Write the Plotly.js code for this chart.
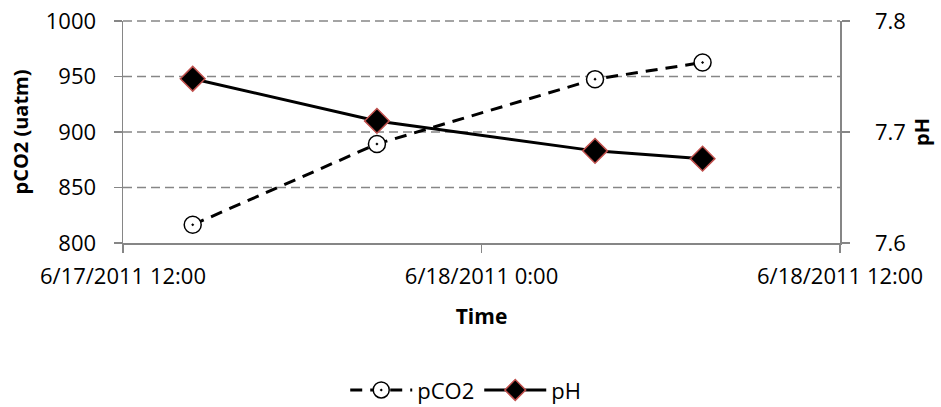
<!DOCTYPE html>
<html>
<head>
<meta charset="utf-8">
<script src="https://cdn.plot.ly/plotly-3.0.1.min.js"></script>
<style>html,body{margin:0;padding:0;background:#fff;}#chart{width:941px;height:407px;}</style>
</head>
<body>
<div id="chart"></div>
<script>
var times = ['2011-06-17 14:20', '2011-06-17 20:30', '2011-06-18 03:48', '2011-06-18 07:24'];
var pco2 = [816.4, 889.2, 947.6, 962.6];
var ph = [7.748, 7.710, 7.683, 7.676];
var xTickVals = ['2011-06-17 12:00', '2011-06-18 00:00', '2011-06-18 12:00'];
var xTickText = ['6/17/2011 12:00', '6/18/2011 0:00', '6/18/2011 12:00'];
var leftTicks = [800, 850, 900, 950, 1000];
var rightTicks = [7.6, 7.7, 7.8];
var rightTickText = ['7.6', '7.7', '7.8'];

var FONT = 'Open Sans, Noto Sans, sans-serif';
var GRAY = '#868686';
var GRIDDASH = '9px,5px';

var traces = [
  {
    x: times, y: pco2, name: 'pCO2', type: 'scatter', mode: 'lines+markers',
    yaxis: 'y',
    line: {color: '#000000', width: 3, dash: '12px,8px'},
    marker: {symbol: 'circle-dot', size: 17, color: '#ffffff', line: {color: '#000000', width: 1.5}}
  },
  {
    x: times, y: ph, name: 'pH', type: 'scatter', mode: 'lines+markers',
    yaxis: 'y2',
    line: {color: '#000000', width: 3},
    marker: {symbol: 'diamond', size: 19, color: '#000000', line: {color: '#c0504d', width: 1.5}}
  }
];

var yMin = leftTicks[0], yMax = leftTicks[leftTicks.length - 1];
// dashed horizontal gridlines at every left-axis tick above the x-axis line
var gridShapes = leftTicks.filter(function (v) { return v > yMin; }).map(function (v) {
  var isTop = (v === yMax);
  return {type: 'line', xref: 'paper', yref: isTop ? 'paper' : 'y', x0: 0, x1: 1,
          y0: isTop ? 1 : v, y1: isTop ? 1 : v,
          line: {color: GRAY, width: 1.3, dash: GRIDDASH}, layer: 'below'};
});

var layout = {
  width: 941, height: 407,
  margin: {l: 123, r: 101, t: 21, b: 164, pad: 0, autoexpand: false},
  paper_bgcolor: '#ffffff', plot_bgcolor: '#ffffff',
  font: {family: FONT, size: 22, color: '#000000'},
  showlegend: true,
  legend: {orientation: 'h', x: 0.478, xanchor: 'center', y: -0.663, yanchor: 'middle',
           font: {family: FONT, size: 22, color: '#000000'}, itemwidth: 62},
  xaxis: {
    type: 'date', range: ['2011-06-17 12:00', '2011-06-18 12:00'],
    tickmode: 'array', tickvals: xTickVals, ticktext: xTickText,
    showgrid: false, zeroline: false, automargin: false,
    showline: true, linecolor: GRAY, linewidth: 1.5,
    ticks: 'outside', ticklen: 8, tickcolor: GRAY, tickwidth: 1.5,
    ticklabelstandoff: 5,
    tickfont: {family: FONT, size: 22, color: '#000000'},
    title: {text: '<b>Time</b>', font: {family: FONT, size: 21, color: '#000000'}, standoff: 20}
  },
  yaxis: {
    range: [yMin, yMax], tickmode: 'array', tickvals: leftTicks,
    showgrid: false,
    zeroline: false, showline: true, linecolor: GRAY, linewidth: 1.5, automargin: false,
    ticks: 'outside', ticklen: 8, tickcolor: GRAY, tickwidth: 1.5,
    ticklabelstandoff: 13,
    tickfont: {family: FONT, size: 22, color: '#000000'},
    title: {text: '<b>pCO2 (uatm)</b>', font: {family: FONT, size: 20, color: '#000000'}, standoff: 12}
  },
  yaxis2: {
    overlaying: 'y', side: 'right',
    range: [7.6, 7.8], tickmode: 'array', tickvals: rightTicks, ticktext: rightTickText,
    showgrid: false, zeroline: false, showline: true, linecolor: GRAY, linewidth: 1.5, automargin: false,
    ticks: 'outside', ticklen: 8, tickcolor: GRAY, tickwidth: 1.5,
    ticklabelstandoff: 21,
    tickfont: {family: FONT, size: 22, color: '#000000'}
  },
  shapes: gridShapes,
  annotations: [
    {text: '<b>pH</b>', xref: 'paper', yref: 'paper', x: 1.113, y: 0.5,
     xanchor: 'center', yanchor: 'middle', showarrow: false, textangle: -90,
     font: {family: FONT, size: 20, color: '#000000'}}
  ]
};

Plotly.newPlot('chart', traces, layout, {displayModeBar: false, staticPlot: true});
</script>
</body>
</html>
